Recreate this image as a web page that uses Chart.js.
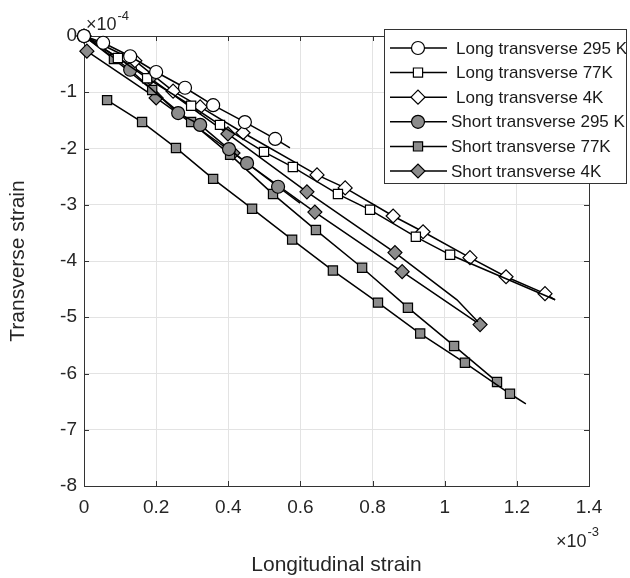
<!DOCTYPE html>
<html><head><meta charset="utf-8">
<script src="https://cdn.jsdelivr.net/npm/chart.js@4/dist/chart.umd.min.js"></script>
<style>html,body{margin:0;padding:0;background:#fff}#wrap{width:630px;height:578px}</style>
</head><body><div id="wrap"><canvas id="c" width="630" height="578"></canvas></div>
<script>
// x values in units of 1e-3, y values in units of 1e-4
const xTicks = [0, 0.2, 0.4, 0.6, 0.8, 1, 1.2, 1.4];
const yTicks = [-8, -7, -6, -5, -4, -3, -2, -1, 0];
const xExponent = '-3';
const yExponent = '-4';
const xTitle = 'Longitudinal strain';
const yTitle = 'Transverse strain';

const seriesLabels = ['Long transverse 295 K', 'Long transverse 77K', 'Long transverse 4K',
  'Short transverse 295 K', 'Short transverse 77K', 'Short transverse 4K'];

// Long transverse 295 K (markers, then line end)
const long295X = [0, 0.053, 0.128, 0.200, 0.280, 0.358, 0.446, 0.530];
const long295Y = [0, -0.12, -0.36, -0.64, -0.92, -1.23, -1.53, -1.83];
const long295EndX = [0.571];
const long295EndY = [-1.99];

// Long transverse 77K
const long77X = [0, 0.094, 0.175, 0.297, 0.377, 0.499, 0.579, 0.704, 0.793, 0.920, 1.015];
const long77Y = [0, -0.39, -0.75, -1.24, -1.58, -2.06, -2.33, -2.81, -3.09, -3.57, -3.89];
const long77EndX = [1.306];
const long77EndY = [-4.69];

// Long transverse 4K
const long4X = [0, 0.141, 0.247, 0.322, 0.441, 0.646, 0.724, 0.857, 0.940, 1.070, 1.170, 1.278];
const long4Y = [0, -0.44, -0.98, -1.26, -1.72, -2.47, -2.70, -3.20, -3.48, -3.94, -4.28, -4.58];
const long4EndX = [1.306];
const long4EndY = [-4.69];

// Short transverse 295 K
const short295X = [0, 0.128, 0.261, 0.322, 0.402, 0.452, 0.538];
const short295Y = [0, -0.60, -1.37, -1.58, -2.01, -2.26, -2.68];
const short295EndX = [0.599];
const short295EndY = [-2.97];

// Short transverse 77K, specimen A and B
const short77aX = [0.064, 0.161, 0.255, 0.358, 0.466, 0.577, 0.690, 0.815, 0.932, 1.056, 1.181];
const short77aY = [-1.14, -1.53, -1.99, -2.54, -3.07, -3.62, -4.17, -4.74, -5.29, -5.81, -6.36];
const short77aEndX = [1.225];
const short77aEndY = [-6.54];
const short77bX = [0, 0.083, 0.189, 0.297, 0.405, 0.524, 0.643, 0.771, 0.898, 1.026, 1.145];
const short77bY = [0, -0.41, -0.96, -1.53, -2.11, -2.81, -3.45, -4.12, -4.83, -5.51, -6.15];
const short77bEndX = [];
const short77bEndY = [];

// Short transverse 4K, specimen A and B
const short4aX = [0, 0.183, 0.399, 0.618, 0.862];
const short4aY = [0, -0.75, -1.74, -2.77, -3.85];
const short4aEndX = [1.034, 1.092];
const short4aEndY = [-4.69, -5.08];
const short4bX = [0.008, 0.200, 0.413, 0.640, 0.882, 1.098];
const short4bY = [-0.27, -1.10, -2.08, -3.13, -4.19, -5.13];
const short4bEndX = [];
const short4bEndY = [];

const GRAY = '#8c8c8c';
const FONT = '"Liberation Sans", Arial, sans-serif';

function pts(xs, ys, ex, ey) {
  const d = xs.map((v, i) => ({x: v, y: ys[i]}));
  ex.forEach((v, i) => d.push({x: v, y: ey[i]}));
  return d;
}
function ds(label, xs, ys, ex, ey, style, fill, radius, inLegend) {
  const n = xs.length;
  return {
    label, data: pts(xs, ys, ex, ey), showLine: true,
    borderColor: '#000', borderWidth: 1.5,
    pointStyle: style, pointBackgroundColor: fill, pointBorderColor: '#000',
    pointBorderWidth: 1.2,
    pointRadius: (c) => c.dataIndex < n ? radius : 0,
    pointHoverRadius: (c) => c.dataIndex < n ? radius : 0,
    clip: false, inLegend
  };
}

const datasets = [
  ds(seriesLabels[0], long295X, long295Y, long295EndX, long295EndY, 'circle', '#fff', 6.5, true),
  ds(seriesLabels[1], long77X, long77Y, long77EndX, long77EndY, 'rect', '#fff', 6.5, true),
  ds(seriesLabels[2], long4X, long4Y, long4EndX, long4EndY, 'rectRot', '#fff', 7, true),
  ds(seriesLabels[3], short295X, short295Y, short295EndX, short295EndY, 'circle', GRAY, 6.5, true),
  ds(seriesLabels[4], short77aX, short77aY, short77aEndX, short77aEndY, 'rect', GRAY, 6.5, true),
  ds(seriesLabels[4], short77bX, short77bY, short77bEndX, short77bEndY, 'rect', GRAY, 6.5, false),
  ds(seriesLabels[5], short4aX, short4aY, short4aEndX, short4aEndY, 'rectRot', GRAY, 7, true),
  ds(seriesLabels[5], short4bX, short4bY, short4bEndX, short4bEndY, 'rectRot', GRAY, 7, false)
];

function marker(ctx, style, fill, cx, cy) {
  ctx.save();
  ctx.fillStyle = fill; ctx.strokeStyle = '#000'; ctx.lineWidth = 1.2;
  ctx.beginPath();
  if (style === 'circle') ctx.arc(cx, cy, 6.5, 0, Math.PI * 2);
  else if (style === 'rect') { const s = 6.5 * Math.SQRT1_2; ctx.rect(cx - s, cy - s, 2 * s, 2 * s); }
  else { ctx.moveTo(cx - 7, cy); ctx.lineTo(cx, cy - 7); ctx.lineTo(cx + 7, cy); ctx.lineTo(cx, cy + 7); ctx.closePath(); }
  ctx.fill(); ctx.stroke();
  ctx.restore();
}

const decor = {
  id: 'decor',
  beforeDatasetsDraw(chart) {
    const {ctx, chartArea: a, scales: {x, y}} = chart;
    ctx.save();
    ctx.strokeStyle = '#333'; ctx.lineWidth = 1;
    ctx.strokeRect(Math.round(a.left) + 0.5, Math.round(a.top) + 0.5,
      Math.round(a.right - a.left), Math.round(a.bottom - a.top));
    ctx.beginPath();
    xTicks.forEach(v => {
      const px = Math.round(x.getPixelForValue(v)) + 0.5;
      ctx.moveTo(px, a.bottom); ctx.lineTo(px, a.bottom - 5);
      ctx.moveTo(px, a.top); ctx.lineTo(px, a.top + 5);
    });
    yTicks.forEach(v => {
      const py = Math.round(y.getPixelForValue(v)) + 0.5;
      ctx.moveTo(a.left, py); ctx.lineTo(a.left + 5, py);
      ctx.moveTo(a.right, py); ctx.lineTo(a.right - 5, py);
    });
    ctx.stroke();
    ctx.restore();
  },
  afterDraw(chart) {
    const {ctx, chartArea: a} = chart;
    ctx.save();
    // exponent labels
    ctx.fillStyle = '#262626';
    ctx.textBaseline = 'alphabetic'; ctx.textAlign = 'left';
    ctx.font = '18px ' + FONT;
    const w = ctx.measureText('\u00d710').width;
    ctx.fillText('\u00d710', a.left + 2, 30);
    ctx.fillText('\u00d710', 556, 547);
    ctx.font = '13px ' + FONT;
    ctx.fillText(yExponent, a.left + 2 + w + 1, 20);
    ctx.fillText(xExponent, 556 + w + 1, 536);
    // legend
    const bx = 384.5, by = 29.5, bw = 242, bh = 154;
    ctx.fillStyle = '#fff'; ctx.fillRect(bx, by, bw, bh);
    ctx.strokeStyle = '#333'; ctx.lineWidth = 1; ctx.strokeRect(bx, by, bw, bh);
    const items = chart.data.datasets.filter(d => d.inLegend);
    ctx.font = '17px ' + FONT; ctx.textBaseline = 'middle';
    items.forEach((d, i) => {
      const ry = 48 + i * 24.6;
      ctx.strokeStyle = '#000'; ctx.lineWidth = 1.5;
      ctx.beginPath(); ctx.moveTo(390, ry); ctx.lineTo(447, ry); ctx.stroke();
      marker(ctx, d.pointStyle, d.pointBackgroundColor, 418, ry);
      ctx.fillStyle = '#1a1a1a';
      ctx.fillText(d.label, d.label.startsWith('Short') ? 451 : 456, ry + 1);
    });
    ctx.restore();
  }
};

new Chart(document.getElementById('c'), {
  type: 'scatter',
  data: {datasets},
  plugins: [decor],
  options: {
    responsive: false, devicePixelRatio: 1, animation: false,
    layout: {padding: {left: 0, top: 36, right: 41, bottom: 0}},
    plugins: {legend: {display: false}, tooltip: {enabled: false}},
    elements: {line: {tension: 0}},
    scales: {
      x: {
        type: 'linear', min: 0, max: 1.4,
        afterFit: s => { s.height = 92; },
        afterBuildTicks: s => { s.ticks = xTicks.map(v => ({value: v})); },
        grid: {color: '#e3e3e3', drawTicks: false},
        border: {display: false},
        ticks: {autoSkip: false, maxRotation: 0, padding: 10, color: '#262626',
          font: {family: FONT, size: 19},
          callback: v => String(Math.round(v * 10) / 10)},
        title: {display: true, text: xTitle, color: '#262626', padding: {top: 0, bottom: 0},
          font: {family: FONT, size: 21}}
      },
      y: {
        type: 'linear', min: -8, max: 0,
        afterFit: s => { s.width = 84; },
        afterBuildTicks: s => { s.ticks = yTicks.map(v => ({value: v})); },
        grid: {color: '#e3e3e3', drawTicks: false},
        border: {display: false},
        ticks: {autoSkip: false, padding: 7, color: '#262626',
          font: {family: FONT, size: 19},
          callback: v => String(Math.round(v))},
        title: {display: true, text: yTitle, color: '#262626', padding: {top: 6, bottom: 0},
          font: {family: FONT, size: 21}}
      }
    }
  }
});
</script>
</body></html>
